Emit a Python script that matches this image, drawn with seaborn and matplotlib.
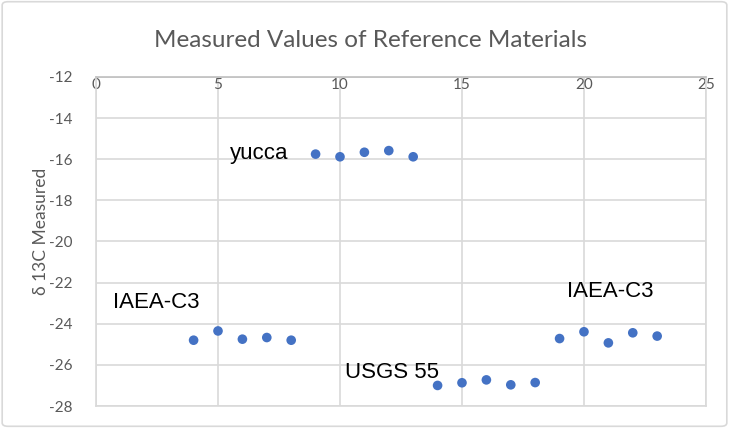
# Messwerte der Referenzmaterialien, Streudiagramm im Excel-Look

import pandas as pd
import matplotlib.pyplot as plt
from matplotlib.patches import FancyBboxPatch
import seaborn as sns

# Daten
run_nr = [4, 5, 6, 7, 8,
          9, 10, 11, 12, 13,
          14, 15, 16, 17, 18,
          19, 20, 21, 22, 23]
d13c = [-24.80, -24.35, -24.75, -24.67, -24.80,
        -15.75, -15.88, -15.66, -15.58, -15.88,
        -27.00, -26.87, -26.73, -26.97, -26.86,
        -24.72, -24.39, -24.93, -24.44, -24.60]

labels = ["yucca", "IAEA-C3", "IAEA-C3", "USGS 55"]
label_x = [5.5, 0.7, 19.3, 10.2]
label_y = [-15.7, -22.95, -22.45, -26.35]

x_ticks = [0, 5, 10, 15, 20, 25]
y_ticks = [-28, -26, -24, -22, -20, -18, -16, -14, -12]

df = pd.DataFrame({"Lauf": run_nr, "d13C": d13c})

sns.set_theme(style="white")
plt.rcParams["font.family"] = ["Lato", "DejaVu Sans"]
plt.rcParams["axes.unicode_minus"] = False

grau = "#595959"
gitter = "#d9d9d9"

fig = plt.figure(figsize=(7.29, 4.28), dpi=100)
ax = fig.add_axes([0.1317, 0.0514, 0.8367, 0.7687])

sns.scatterplot(data=df, x="Lauf", y="d13C", ax=ax, color="#4472C4",
                s=48, edgecolor="none", zorder=3)

ax.set_xlim(0, 25)
ax.set_ylim(-28, -12)
ax.set_xticks(x_ticks)
ax.set_yticks(y_ticks)
ax.grid(True, color=gitter, linewidth=1.2)
ax.set_axisbelow(True)
for s in ax.spines.values():
    s.set_color(gitter)
    s.set_linewidth(1.2)
ax.spines["top"].set_color("#bfbfbf")

# x-Achse oben, Beschriftung innerhalb
ax.xaxis.set_ticks_position("top")
ax.tick_params(axis="x", top=False, bottom=False, labeltop=True,
               labelbottom=False, pad=-17, labelsize=11, labelcolor=grau)
ax.tick_params(axis="y", left=False, labelsize=11, labelcolor=grau, pad=11)

ax.set_xlabel("")
ax.set_ylabel("δ 13C Measured", fontsize=12.5, color=grau, labelpad=3)
ax.yaxis.set_label_coords(-0.077, 0.53)

for txt, lx, ly in zip(labels, label_x, label_y):
    ax.text(lx, ly, txt, fontsize=16, family="Liberation Sans",
            color="black", va="center", ha="left")

fig.text(0.508, 0.905, "Measured Values of Reference Materials",
         ha="center", va="center", fontsize=17.5, color=grau)

# Rahmen um das Diagramm
fig.patches.append(FancyBboxPatch((0.003, 0.004), 0.994, 0.992,
                                  boxstyle="round,pad=0,rounding_size=0.008",
                                  transform=fig.transFigure, fill=False,
                                  edgecolor=gitter, linewidth=1.2))

fig.savefig("out.png", dpi=100)
